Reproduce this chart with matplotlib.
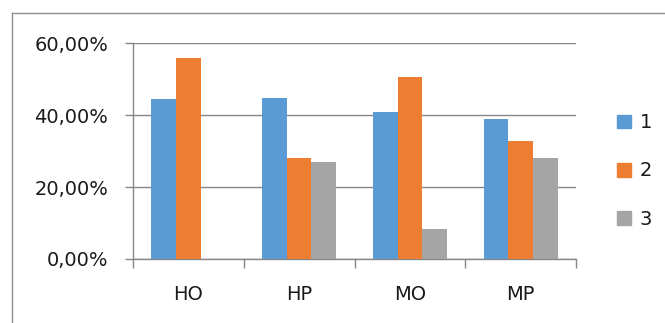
import numpy as np
import matplotlib.pyplot as plt
from matplotlib.lines import Line2D
from matplotlib.patches import Patch
from matplotlib.ticker import FuncFormatter

categories = ['HO', 'HP', 'MO', 'MP']
series_names = ['1', '2', '3']
s1 = [44.4, 44.7, 40.8, 38.9]
s2 = [55.8, 28.1, 50.5, 32.8]
s3 = [0.0, 26.9, 8.3, 28.1]
colors = ['#5B9BD5', '#ED7D31', '#A5A5A5']

plt.rcParams['font.family'] = ['DejaVu Sans']
grey = '#868686'
fs = 14

fig = plt.figure(figsize=(6.65, 3.23), dpi=100)
ax = fig.add_axes([133 / 665, 1 - 259 / 323, 443 / 665, 216 / 323])

x = np.arange(len(categories))
w = 0.222
for i, vals in enumerate([s1, s2, s3]):
    ax.bar(x + (i - 1) * w, vals, w, color=colors[i], zorder=3)

ax.set_xlim(-0.5, 3.5)
ax.set_ylim(0, 60)
ax.set_yticks([0, 20, 40, 60])
ax.yaxis.set_major_formatter(FuncFormatter(lambda v, p: f'{v:.2f}%'.replace('.', ',')))
ax.set_xticks(x)
ax.set_xticklabels(categories)
ax.set_xticks(np.arange(-0.5, 4, 1), minor=True)
ax.tick_params(axis='x', which='major', length=0, pad=19, labelsize=fs, labelcolor='#1a1a1a')
ax.tick_params(axis='x', which='minor', length=6.5, color=grey, width=1)
ax.tick_params(axis='y', length=6, color=grey, width=1, pad=12, labelsize=fs, labelcolor='#1a1a1a')
ax.grid(axis='y', color=grey, linewidth=1, zorder=0)
for side in ['top', 'right']:
    ax.spines[side].set_visible(False)
for side in ['left', 'bottom']:
    ax.spines[side].set_color(grey)
    ax.spines[side].set_linewidth(1)

handles = [Patch(color=c) for c in colors]
leg = fig.legend(handles, series_names, loc='center left',
                 bbox_to_anchor=(617 / 665, 1 - 171 / 323), frameon=False,
                 fontsize=fs, handlelength=0.72, handleheight=0.72,
                 handletextpad=0.45, labelspacing=1.5, borderpad=0, borderaxespad=0)
for t in leg.get_texts():
    t.set_color('#1a1a1a')

# outer chart border (cropped on the right and bottom)
fig.add_artist(Line2D([12 / 665, 12 / 665], [0, 1 - 13 / 323], color='#8c8c8c', lw=1,
                      transform=fig.transFigure))
fig.add_artist(Line2D([12 / 665, 1], [1 - 13 / 323, 1 - 13 / 323], color='#8c8c8c', lw=1,
                      transform=fig.transFigure))

fig.savefig('out.png', dpi=100)
